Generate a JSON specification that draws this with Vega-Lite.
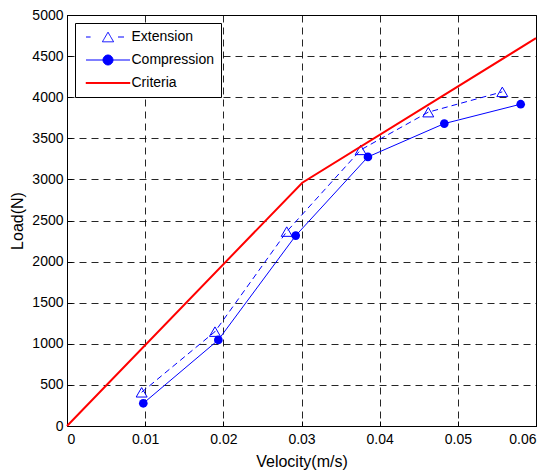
{
  "$schema": "https://vega.github.io/schema/vega-lite/v6.json",
  "width": 469,
  "height": 411,
  "autosize": {"type": "none"},
  "padding": {"left": 67, "top": 15, "right": 15, "bottom": 49},
  "background": "white",
  "config": {
    "font": "Liberation Sans",
    "view": {"stroke": "black", "strokeWidth": 1},
    "axis": {
      "labelFont": "Liberation Sans",
      "labelFontSize": 14,
      "labelColor": "black",
      "titleFont": "Liberation Sans",
      "titleFontSize": 16,
      "titleFontWeight": "normal",
      "titleColor": "black",
      "domainColor": "black",
      "domainWidth": 1,
      "tickColor": "black",
      "tickSize": -5,
      "gridColor": "black",
      "gridDash": [7, 5],
      "gridOpacity": 0.85,
      "gridWidth": 1
    }
  },
  "data": {
    "values": [
      {"series": "Extension", "v": 0.00955, "load": 410},
      {"series": "Extension", "v": 0.01893, "load": 1148},
      {"series": "Extension", "v": 0.02811, "load": 2365},
      {"series": "Extension", "v": 0.03757, "load": 3359},
      {"series": "Extension", "v": 0.04622, "load": 3818},
      {"series": "Extension", "v": 0.05569, "load": 4065},
      {"series": "Compression", "v": 0.00976, "load": 276},
      {"series": "Compression", "v": 0.01936, "load": 1047},
      {"series": "Compression", "v": 0.02926, "load": 2316},
      {"series": "Compression", "v": 0.0385, "load": 3274},
      {"series": "Compression", "v": 0.04827, "load": 3679},
      {"series": "Compression", "v": 0.05804, "load": 3915},
      {"series": "Criteria", "v": 0, "load": 0},
      {"series": "Criteria", "v": 0.0301, "load": 2960},
      {"series": "Criteria", "v": 0.06, "load": 4718}
    ]
  },
  "encoding": {
    "x": {
      "field": "v",
      "type": "quantitative",
      "scale": {"domain": [0, 0.06], "nice": false, "zero": false},
      "axis": {
        "title": "Velocity(m/s)",
        "values": [0, 0.01, 0.02, 0.03, 0.04, 0.05, 0.06],
        "format": "~g",
        "labelPadding": 11,
        "titlePadding": 7
      }
    },
    "y": {
      "field": "load",
      "type": "quantitative",
      "scale": {"domain": [0, 5000], "nice": false},
      "axis": {
        "title": "Load(N)",
        "values": [0, 500, 1000, 1500, 2000, 2500, 3000, 3500, 4000, 4500, 5000],
        "format": "d",
        "labelPadding": 9,
        "titlePadding": 6
      }
    }
  },
  "layer": [
    {
      "transform": [{"filter": "datum.series === 'Compression'"}],
      "mark": {"type": "line", "strokeWidth": 1},
      "encoding": {
        "color": {
          "field": "series",
          "type": "nominal",
          "scale": {"domain": ["Extension", "Compression", "Criteria"], "range": ["#0000FF", "#0000FF", "#FF0000"]},
          "legend": {
            "title": null,
            "orient": "top-left",
            "offset": 7.5,
            "padding": 7,
            "strokeColor": "black",
            "fillColor": "white",
            "cornerRadius": 0,
            "labelFont": "Liberation Sans",
            "labelFontSize": 14,
            "labelColor": "black",
            "labelOffset": 35.5,
            "symbolSize": 64,
            "symbolStrokeWidth": 1,
            "rowPadding": 9,
            "encoding": {
              "symbols": {
                "shape": {
                  "condition": [
                    {"test": "datum.value === 'Extension'", "value": "M-0.75,0H0.4M7.25,0H8.75M4.75,-1.2L6.15,1.2L3.35,1.2Z"},
                    {"test": "datum.value === 'Compression'", "value": "M-0.75,0H10.25M6,0A1.25,1.25 0 1,1 3.5,0A1.25,1.25 0 1,1 6,0Z"}
                  ],
                  "value": "M-0.75,-0.12H10.25V0.12H-0.75Z"
                },
                "fill": {
                  "condition": [
                    {"test": "datum.value === 'Compression'", "value": "#0000FF"},
                    {"test": "datum.value === 'Criteria'", "value": "#FF0000"}
                  ],
                  "value": "transparent"
                },
                "strokeDash": {"value": [1, 0]},
                "opacity": {"value": 1}
              }
            }
          }
        }
      }
    },
    {
      "transform": [{"filter": "datum.series === 'Extension'"}],
      "mark": {"type": "line", "color": "#0000FF", "strokeWidth": 1, "strokeDash": [6, 4]},
      "encoding": {}
    },
    {
      "transform": [{"filter": "datum.series === 'Extension'"}],
      "mark": {"type": "point", "shape": "triangle-up", "filled": false, "color": "#0000FF", "size": 120, "strokeWidth": 1, "opacity": 1}
    },
    {
      "transform": [{"filter": "datum.series === 'Compression'"}],
      "mark": {"type": "point", "shape": "circle", "filled": true, "color": "#0000FF", "size": 75, "opacity": 1}
    },
    {
      "transform": [{"filter": "datum.series === 'Criteria'"}],
      "mark": {"type": "line", "color": "#FF0000", "strokeWidth": 2},
      "encoding": {}
    }
  ]
}
